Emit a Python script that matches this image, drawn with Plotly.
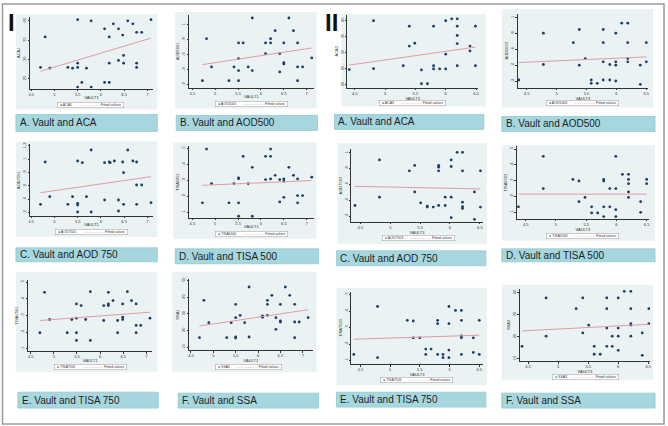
import plotly.graph_objects as go

W, H = 668, 426

# ---------------- data ----------------
p1_x = [4.70,4.80,4.90,5.29,5.39,5.50,5.50,5.50,5.50,5.59,5.69,5.79,5.79,6.08,6.08,6.18,6.18,6.18,6.27,6.38,6.38,6.47,6.49,6.49,6.58,6.69,6.77,6.88,6.77,6.77,7.08]
p1_y = [27.9,35.8,27.7,27.9,27.7,40.3,29.0,27.9,22.8,24.0,27.7,40.0,22.8,37.9,24.0,35.8,29.0,24.0,39.2,37.9,29.7,36.3,31.0,29.0,40.0,39.2,37.0,37.0,29.0,27.9,40.3]
p1_fit = [26.9, 35.5]

p2_x = [4.72,4.81,4.92,5.30,5.41,5.51,5.51,5.51,5.51,5.61,5.72,5.81,5.81,6.10,6.10,6.21,6.21,6.31,6.41,6.41,6.50,6.50,6.50,6.61,6.71,6.80,6.80,6.80,6.91,7.11]
p2_y = [0.253,0.813,0.436,0.253,0.436,0.756,0.547,0.387,0.253,0.756,0.436,1.089,0.387,0.756,0.613,0.813,0.756,0.92,0.613,0.369,0.756,0.493,0.476,1.089,0.92,0.756,0.436,0.253,0.436,0.556]
p2_fit = [0.467, 0.689]

p3_x = [4.41,4.81,4.81,5.30,5.40,5.40,5.49,5.60,5.60,5.70,5.80,5.80,5.80,5.90,6.00,6.00,6.00,6.10,6.19,6.19,6.19,6.19,6.19,6.40,6.40,6.49,6.49]
p3_y = [24.7,39.9,25.0,25.9,38.2,32.0,32.9,24.6,20.3,20.3,38.2,25.9,24.9,24.9,39.9,29.5,24.9,40.5,40.5,38.2,35.3,32.8,25.9,32.0,30.5,38.2,25.9]
p3_fit = [26.1, 31.7]

p4_x = [4.37,4.78,4.78,5.28,5.38,5.38,5.48,5.58,5.58,5.68,5.78,5.78,5.78,5.78,5.89,5.89,5.99,5.99,5.99,5.99,6.09,6.19,6.19,6.19,6.19,6.40,6.40,6.50,6.50]
p4_y = [0.213,0.804,0.408,0.683,0.85,0.40,0.483,0.213,0.171,0.171,0.85,0.683,0.442,0.213,0.408,0.213,0.804,0.442,0.40,0.20,0.929,0.929,0.683,0.483,0.442,0.40,0.158,0.683,0.442]
p4_fit = [0.433, 0.504]

p5_x = [4.70,4.80,4.90,5.29,5.39,5.50,5.50,5.50,5.50,5.60,5.69,5.79,5.79,6.08,6.08,6.18,6.20,6.29,6.38,6.38,6.47,6.49,6.49,6.58,6.69,6.77,6.77,6.77,6.88,7.08]
p5_y = [0.325,0.96,0.44,0.325,0.44,0.975,0.34,0.315,0.21,0.95,0.44,1.14,0.21,0.95,0.39,0.96,0.95,0.975,0.39,0.225,0.96,0.80,0.325,1.14,0.975,0.96,0.615,0.325,0.615,0.35]
p5_fit = [0.50, 0.74]

p6_x = [4.72,4.81,4.92,5.30,5.41,5.51,5.51,5.51,5.51,5.61,5.72,5.81,5.81,6.10,6.10,6.21,6.21,6.21,6.31,6.41,6.41,6.50,6.50,6.50,6.61,6.71,6.80,6.80,6.80,6.91,7.11]
p6_y = [0.159,0.497,0.28,0.159,0.28,0.315,0.311,0.159,0.075,0.451,0.28,0.382,0.075,0.451,0.305,0.497,0.451,0.309,0.332,0.305,0.165,0.309,0.295,0.194,0.382,0.332,0.309,0.205,0.159,0.205,0.32]
p6_fit = [0.269, 0.299]

p7_x = [4.41,4.82,4.82,5.32,5.41,5.41,5.51,5.62,5.62,5.72,5.81,5.81,5.81,5.81,5.92,5.92,6.02,6.02,6.02,6.02,6.12,6.21,6.21,6.21,6.21,6.21,6.41,6.41,6.51,6.51]
p7_y = [0.333,0.908,0.438,0.771,0.838,0.504,0.367,0.325,0.313,0.313,0.838,0.817,0.771,0.333,0.438,0.333,0.908,0.825,0.438,0.179,1.004,1.004,0.771,0.375,0.317,0.296,0.504,0.158,0.771,0.313]
p7_fit = [0.575, 0.542]

p8_x = [4.38,4.79,4.79,5.28,5.38,5.38,5.48,5.59,5.59,5.69,5.79,5.79,5.79,5.79,5.89,5.89,5.99,5.99,5.99,5.99,6.10,6.20,6.20,6.20,6.20,6.20,6.40,6.40,6.50,6.50]
p8_y = [0.135,0.454,0.25,0.308,0.298,0.167,0.194,0.135,0.096,0.096,0.308,0.298,0.135,0.073,0.25,0.135,0.454,0.25,0.117,0.073,0.34,0.34,0.308,0.281,0.229,0.194,0.167,0.10,0.308,0.281]
p8_fit = [0.215, 0.215]

p9_x = [4.70,4.80,4.91,5.29,5.39,5.49,5.49,5.49,5.49,5.59,5.69,5.79,5.79,6.08,6.08,6.18,6.18,6.18,6.28,6.38,6.38,6.49,6.49,6.49,6.59,6.68,6.78,6.78,6.78,6.88,7.08]
p9_y = [0.196,0.44,0.276,0.196,0.276,0.37,0.284,0.196,0.15,0.36,0.276,0.444,0.15,0.36,0.27,0.44,0.37,0.36,0.39,0.27,0.196,0.37,0.29,0.276,0.444,0.39,0.37,0.24,0.196,0.24,0.284]
p9_fit = [0.27, 0.32]

p10_x = [4.69,4.79,4.90,5.30,5.40,5.50,5.50,5.50,5.50,5.60,5.70,5.80,5.80,6.10,6.10,6.21,6.21,6.21,6.31,6.40,6.40,6.50,6.50,6.50,6.61,6.71,6.82,6.82,6.82,6.92,7.12]
p10_y = [15.6,38.0,24.6,15.6,24.6,35.6,27.6,16.0,15.4,29.0,24.6,46.0,16.0,28.6,27.8,38.0,35.6,29.0,41.0,27.6,20.6,35.6,25.6,25.0,46.0,41.0,35.6,25.0,15.6,25.0,27.6]
p10_fit = [22.6, 32.4]

p11_x = [4.39,4.79,4.79,5.29,5.39,5.39,5.50,5.60,5.60,5.69,5.80,5.80,5.80,5.89,5.89,5.99,5.99,5.99,5.99,6.10,6.20,6.20,6.20,6.20,6.20,6.40,6.40,6.50,6.50]
p11_y = [0.138,0.428,0.118,0.344,0.34,0.238,0.238,0.17,0.138,0.17,0.344,0.324,0.138,0.138,0.118,0.428,0.324,0.164,0.118,0.404,0.404,0.344,0.25,0.238,0.138,0.238,0.15,0.344,0.138]
p11_fit = [0.23, 0.254]

p12_x = [4.40,4.80,4.80,5.30,5.41,5.41,5.51,5.60,5.60,5.70,5.81,5.81,5.81,5.81,5.90,5.90,6.00,6.00,6.00,6.00,6.10,6.21,6.21,6.21,6.21,6.21,6.40,6.40,6.51,6.51]
p12_y = [15.6,37.6,20.2,32.7,37.6,21.7,25.2,15.6,12.0,12.0,37.6,32.7,23.9,15.6,20.2,15.6,37.6,23.9,20.2,13.8,40.6,40.6,32.7,25.9,25.2,20.2,21.7,11.5,32.7,25.9]
p12_fit = [22.6, 25.6]

captions = ["A. Vault and ACA", "B. Vault and AOD500", "A. Vault and ACA", "B. Vault and AOD500",
            "C. Vault and AOD 750", "D. Vault and TISA 500", "C. Vault and AOD 750", "D. Vault and TISA 500",
            "E. Vault and TISA 750", "F. Vault and SSA", "E. Vault and TISA 750", "F. Vault and SSA"]
y_names = ["ACA1", "AOD5001", "ACA3", "AOD5003", "AOD7501", "TISA5001", "AOD7503", "TISA5003",
           "TISA7501", "SSA1", "TISA7503", "SSA3"]
x_names = ["VAULT1", "VAULT1", "VAULT3", "VAULT3"] * 3
fit_label = "Fitted values"

x_ticks_1 = [4.5, 5, 5.5, 6, 6.5, 7]
x_ticklabels_1 = ["4.5", "5", "5.5", "6", "6.5", "7"]
x_ticks_3 = [4.5, 5, 5.5, 6, 6.5]
x_ticklabels_3 = ["4.5", "5", "5.5", "6", "6.5"]

y_ticks = [
    [25, 30, 35, 40], [.2, .4, .6, .8, 1], [20, 25, 30, 35, 40], [.2, .4, .6, .8, 1],
    [.2, .4, .6, .8, 1, 1.2], [.1, .2, .3, .4, .5], [.2, .4, .6, .8, 1], [.1, .2, .3, .4, .5],
    [.1, .2, .3, .4, .5], [10, 20, 30, 40, 50], [.1, .2, .3, .4, .5], [10, 20, 30, 40],
]

xs_all = [p1_x, p2_x, p3_x, p4_x, p5_x, p6_x, p7_x, p8_x, p9_x, p10_x, p11_x, p12_x]
ys_all = [p1_y, p2_y, p3_y, p4_y, p5_y, p6_y, p7_y, p8_y, p9_y, p10_y, p11_y, p12_y]
fits_all = [p1_fit, p2_fit, p3_fit, p4_fit, p5_fit, p6_fit, p7_fit, p8_fit, p9_fit, p10_fit, p11_fit, p12_fit]

# ---------------- layout geometry (pixels) ----------------
x_ranges = [[4.47, 7.13], [4.43, 7.15], [4.38, 6.53], [4.35, 6.53],
            [4.47, 7.13], [4.43, 7.15], [4.35, 6.55], [4.35, 6.54],
            [4.44, 7.13], [4.46, 7.22], [4.35, 6.56], [4.36, 6.53]]
y_ranges = [[22.4, 41.0], [0.16, 1.13], [19.1, 41.7], [0.117, 1.046],
            [0.15, 1.225], [0.064, 0.514], [0.125, 1.042], [0.058, 0.517],
            [0.084, 0.516], [8, 51], [0.078, 0.518], [8.8, 41.8]]
plot_boxes = [(29, 153, 15, 87), (189, 314, 13, 86), (348, 479, 13, 86), (519, 650, 12, 86),
              (29, 153, 143, 215), (189, 314, 145, 217), (352, 484, 148, 221), (518, 651, 145, 218),
              (27, 152, 279, 351), (189, 313, 278, 350), (352, 484, 291, 364), (521, 652, 288, 361)]
region_boxes = [(15, 157, 12, 108), (175, 317, 10, 107), (342, 487, 12, 105), (503, 655, 7, 106),
                (15, 157, 140, 236), (173, 317, 141, 238), (338, 488, 142, 243), (503, 657, 144, 240),
                (15, 157, 271, 372), (172, 317, 271, 372), (337, 488, 287, 385), (503, 655, 284, 380)]
caption_boxes = [(15, 157, 113, 130), (176, 318, 114, 129), (335, 485, 113, 128), (503, 657, 115, 130),
                 (15, 157, 247, 261), (175, 319, 248, 263), (337, 487, 250, 265), (503, 657, 248, 261),
                 (17, 158, 392, 408), (178, 319, 393, 408), (337, 487, 392, 407), (503, 657, 393, 408)]
legend_centers = [(90, 103.5), (252, 102.5), (413, 101.5), (584, 101.5),
                  (91, 231.5), (252, 233.5), (419, 237.5), (584, 235.5),
                  (90, 367), (249, 367), (417, 379.5), (587, 376.5)]

MARKER = "#1a3f66"
FITCOL = "#e29aa3"
REGION = "#eaf2f4"
CAPFILL = "#a6d7df"
AXCOL = "#333333"
SMALL = dict(family="Liberation Sans, Arial, sans-serif", size=4, color="#333333")


def fx(px):
    return px / W


def fy(py):
    return 1 - py / H


def stata_label(v):
    s = ("%g" % v)
    if s.startswith("0."):
        s = s[1:]
    return s


fig = go.Figure()
layout = dict(width=W, height=H, margin=dict(l=0, r=0, t=0, b=0),
              paper_bgcolor="white", plot_bgcolor="white", showlegend=False)
shapes = []
annotations = []

for i in range(12):
    s = "" if i == 0 else str(i + 1)
    xs, ys, fit = xs_all[i], ys_all[i], fits_all[i]
    fig.add_trace(go.Scatter(x=xs, y=ys, mode="markers", name=y_names[i],
                             marker=dict(size=2.8, color=MARKER),
                             xaxis="x" + s, yaxis="y" + s, hoverinfo="x+y"))
    fig.add_trace(go.Scatter(x=[min(xs), max(xs)], y=fit, mode="lines", name=fit_label,
                             line=dict(color=FITCOL, width=1),
                             xaxis="x" + s, yaxis="y" + s, hoverinfo="skip"))

    x0, x1, y0, y1 = plot_boxes[i]
    left = (i % 4) in (0, 1)
    xt = x_ticks_1 if left else x_ticks_3
    xtl = x_ticklabels_1 if left else x_ticklabels_3
    layout["xaxis" + s] = dict(
        domain=[fx(x0), fx(x1)], anchor="y" + s, range=x_ranges[i],
        tickvals=xt, ticktext=xtl, showline=True, linecolor=AXCOL, linewidth=0.6,
        ticks="outside", ticklen=1.5, tickwidth=0.5, tickcolor=AXCOL, tickfont=SMALL,
        showgrid=False, zeroline=False,
        title=dict(text=x_names[i], font=SMALL, standoff=0))
    layout["yaxis" + s] = dict(
        domain=[fy(y1), fy(y0)], anchor="x" + s, range=y_ranges[i],
        tickvals=y_ticks[i], ticktext=[stata_label(v) for v in y_ticks[i]],
        tickangle=-90, showline=True, linecolor=AXCOL, linewidth=0.6,
        ticks="outside", ticklen=1.5, tickwidth=0.5, tickcolor=AXCOL, tickfont=SMALL,
        showgrid=False, zeroline=False,
        title=dict(text=y_names[i], font=SMALL, standoff=1))

    rx0, rx1, ry0, ry1 = region_boxes[i]
    shapes.append(dict(type="rect", xref="paper", yref="paper", layer="below",
                       x0=fx(rx0), x1=fx(rx1), y0=fy(ry1), y1=fy(ry0),
                       fillcolor=REGION, line=dict(width=0)))
    cx0, cx1, cy0, cy1 = caption_boxes[i]
    shapes.append(dict(type="rect", xref="paper", yref="paper",
                       x0=fx(cx0), x1=fx(cx1), y0=fy(cy1), y1=fy(cy0),
                       fillcolor=CAPFILL, line=dict(color="#93c8d1", width=0.8)))
    annotations.append(dict(xref="paper", yref="paper", x=fx(cx0 + 2), y=fy((cy0 + cy1) / 2),
                            xanchor="left", yanchor="middle", showarrow=False,
                            text=captions[i],
                            font=dict(family="Liberation Sans, Arial", size=10, color="#1e1e1e")))
    lx, ly = legend_centers[i]
    annotations.append(dict(xref="paper", yref="paper", x=fx(lx), y=fy(ly),
                            xanchor="center", yanchor="middle", showarrow=False,
                            text=("&nbsp;&nbsp;<span style='color:%s'>●</span> %s &nbsp;&nbsp;&nbsp;&nbsp;&nbsp;&nbsp;"
                                  "<span style='color:%s'>——————</span> %s&nbsp;&nbsp;")
                                 % (MARKER, y_names[i], FITCOL, fit_label),
                            font=dict(family="Liberation Sans, Arial", size=3.5, color="#333"),
                            bgcolor="white", bordercolor="#9a9a9a", borderwidth=0.5, borderpad=0.5))

# group markers I and II
annotations.append(dict(xref="paper", yref="paper", x=fx(11), y=fy(21), xanchor="center", yanchor="middle",
                        showarrow=False, text="<b>I</b>",
                        font=dict(family="Liberation Sans, Arial", size=24, color="#111")))
annotations.append(dict(xref="paper", yref="paper", x=fx(332), y=fy(21), xanchor="center", yanchor="middle",
                        showarrow=False, text="<b>II</b>",
                        font=dict(family="Liberation Sans, Arial", size=24, color="#111")))

# outer frame
shapes.append(dict(type="rect", xref="paper", yref="paper", x0=fx(1.5), x1=fx(666), y0=fy(424), y1=fy(2),
                   line=dict(color="#9a9a9a", width=1.5), fillcolor="rgba(0,0,0,0)"))

layout["shapes"] = shapes
layout["annotations"] = annotations
fig.update_layout(**layout)
fig.write_html("out.html", config={"displayModeBar": False},
               post_script="document.body.style.margin='0';document.body.style.overflow='hidden';")
